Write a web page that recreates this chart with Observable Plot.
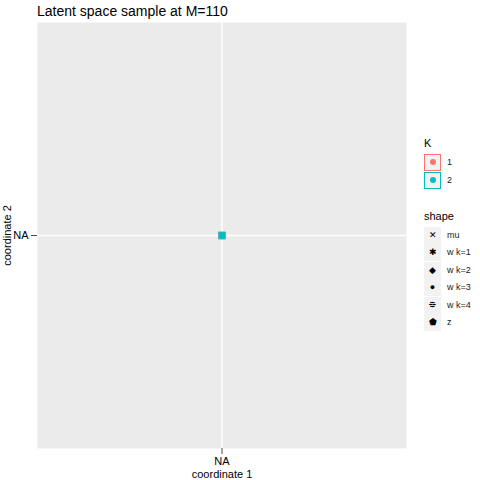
<!DOCTYPE html>
<html><head><meta charset="utf-8">
<script src="https://cdn.jsdelivr.net/npm/d3@7"></script>
<script src="https://cdn.jsdelivr.net/npm/@observablehq/plot@0.6"></script>
<style>
body{margin:0;background:#fff;font-family:"Liberation Sans",Arial,sans-serif;}
#wrap{position:relative;width:480px;height:480px;}
#title{position:absolute;left:37px;top:3px;font-size:14px;color:#000;}
.lg{position:absolute;left:424px;font-size:11px;color:#000;}
.key{position:absolute;width:17px;height:17px;background:#f2f2f2;box-sizing:border-box;}
.lab{position:absolute;font-size:9px;color:#1a1a1a;}
</style></head>
<body><div id="wrap"><div id="title">Latent space sample at M=110</div><div id="chart"></div></div>
<script>
var kLevels = ["1", "2"];
var kColors = ["#f8766d", "#00bfc4"];
var shapeLabels = ["mu", "w k=1", "w k=2", "w k=3", "w k=4", "z"];
var shapeGlyphs = ["✕", "✱", "◆", "●", "⯐", "⬟"];
var points = [{x: 0, y: 0, K: "2"}];

var plot = Plot.plot({
  width: 480,
  height: 480,
  marginLeft: 37,
  marginRight: 74,
  marginTop: 22,
  marginBottom: 32,
  style: {background: "transparent", fontFamily: "Liberation Sans, Arial, sans-serif", fontSize: "9px"},
  x: {domain: [-1, 1], ticks: [0], tickFormat: () => "NA", label: "coordinate 1", labelAnchor: "center", labelArrow: "none", labelOffset: 28, tickSize: 3},
  y: {domain: [-1, 1], ticks: [0], tickFormat: () => "NA", label: "coordinate 2", labelAnchor: "center", labelArrow: "none", labelOffset: 30, tickSize: 3},
  marks: [
    Plot.frame({fill: "#ebebeb", stroke: null}),
    Plot.ruleX([0], {stroke: "white", strokeWidth: 1.5}),
    Plot.ruleY([0], {stroke: "white", strokeWidth: 1.5}),
    Plot.dot(points, {x: "x", y: "y", symbol: "square", r: 4, fill: d => kColors[kLevels.indexOf(d.K)], stroke: "#5aa9a9", strokeWidth: 0.8}),
    Plot.axisX({ticks: [0], tickFormat: () => "NA", label: "coordinate 1", labelAnchor: "center", labelArrow: "none", fontSize: 9, color: "#4d4d4d"}),
    Plot.axisY({ticks: [0], tickFormat: () => "NA", label: "coordinate 2", labelAnchor: "center", labelArrow: "none", fontSize: 9, color: "#4d4d4d"})
  ]
});
d3.select(plot).selectAll("[aria-label$='label'] text").style("font-size", "11px").style("fill", "#000");
document.getElementById("chart").appendChild(plot);

var wrap = d3.select("#wrap");
wrap.append("div").attr("class", "lg").style("top", "137px").text("K");
kLevels.forEach((k, i) => {
  var top = 154 + i * 18;
  wrap.append("div").attr("class", "key")
    .style("left", "424px").style("top", top + "px")
    .style("border", "1.5px solid " + kColors[i])
    .html('<div style="width:6px;height:6px;border-radius:50%;background:' + kColors[i] + ';margin:4px auto 0"></div>');
  wrap.append("div").attr("class", "lab").style("left", "447px").style("top", (top + 3) + "px").style("font-size", "9px").text(k);
});
wrap.append("div").attr("class", "lg").style("top", "210px").text("shape");
shapeLabels.forEach((s, i) => {
  var top = 227 + i * 17.4;
  wrap.append("div").attr("class", "key")
    .style("left", "424px").style("top", top + "px")
    .style("text-align", "center").style("font-size", "9px").style("line-height", "17px")
    .text(shapeGlyphs[i]);
  wrap.append("div").attr("class", "lab").style("left", "447px").style("top", (top + 3) + "px").text(s);
});
</script></body></html>
